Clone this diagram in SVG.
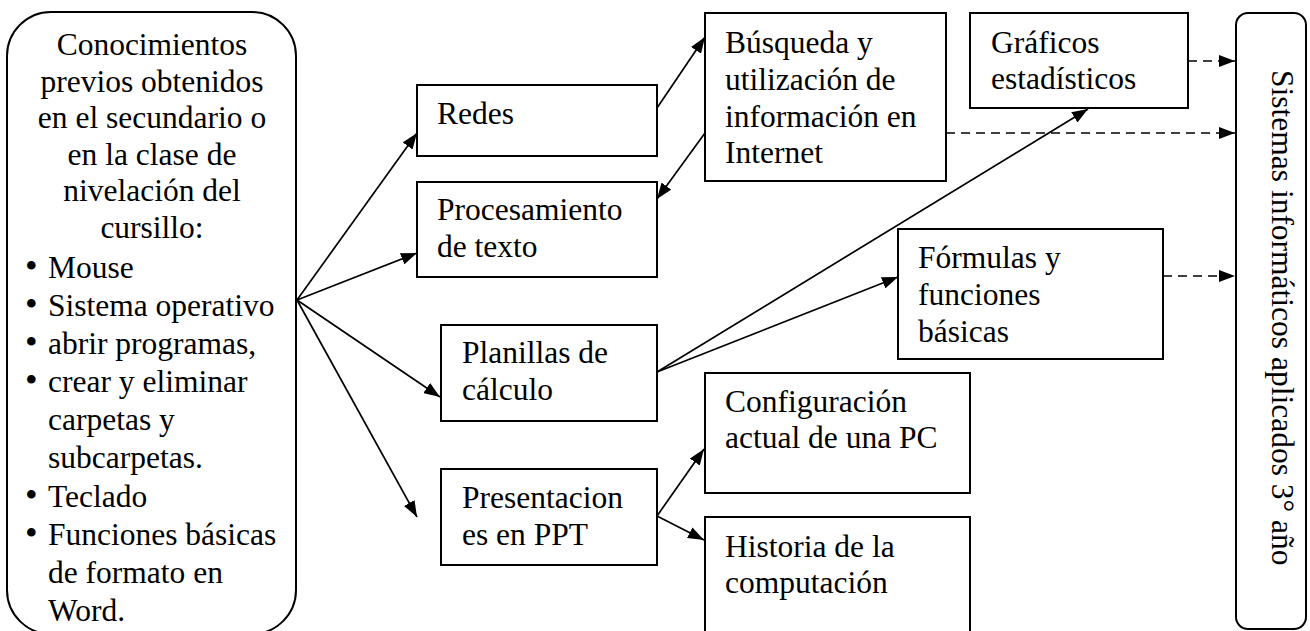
<svg xmlns="http://www.w3.org/2000/svg" width="1310" height="631" viewBox="0 0 1310 631">
<defs>
<style>
.box{fill:#fff;stroke:#000;stroke-width:2}
.t{font-family:"Liberation Serif","Times New Roman",serif;font-size:31.5px;fill:#000}
.b{font-size:36px}
.c{text-anchor:middle}
.ln{fill:none;stroke:#000;stroke-width:1.7}
.ds{fill:none;stroke:#000;stroke-width:1.7;stroke-dasharray:9,6}
</style>
<marker id="ah" viewBox="0 0 16 12" refX="16" refY="6" markerWidth="16" markerHeight="12" markerUnits="userSpaceOnUse" orient="auto">
<path d="M0,0 L16,6 L0,12 Z" fill="#000"/>
</marker>
</defs>
<rect width="1310" height="631" fill="#fff"/>

<g id="n-conocimientos">
<rect class="box" x="7" y="12" width="289" height="622" rx="44" ry="44"/>
<text class="t c" x="152" y="55">Conocimientos</text>
<text class="t c" x="152" y="91.5">previos obtenidos</text>
<text class="t c" x="152" y="128">en el secundario o</text>
<text class="t c" x="152" y="164.5">en la clase de</text>
<text class="t c" x="152" y="201">nivelación del</text>
<text class="t c" x="152" y="237.5">cursillo:</text>
<text class="t" y="278"><tspan class="b" x="25">•</tspan><tspan x="48">Mouse</tspan></text>
<text class="t" y="316"><tspan class="b" x="25">•</tspan><tspan x="48">Sistema operativo</tspan></text>
<text class="t" y="354"><tspan class="b" x="25">•</tspan><tspan x="48">abrir programas,</tspan></text>
<text class="t" y="392"><tspan class="b" x="25">•</tspan><tspan x="48">crear y eliminar</tspan></text>
<text class="t" x="48" y="430">carpetas y</text>
<text class="t" x="48" y="468">subcarpetas.</text>
<text class="t" y="506.5"><tspan class="b" x="25">•</tspan><tspan x="48">Teclado</tspan></text>
<text class="t" y="544.5"><tspan class="b" x="25">•</tspan><tspan x="48">Funciones básicas</tspan></text>
<text class="t" x="48" y="582.5">de formato en</text>
<text class="t" x="48" y="620.5">Word.</text>
</g>

<g id="n-redes">
<rect class="box" x="417" y="85" width="240" height="71"/>
<text class="t" x="437" y="124">Redes</text>
</g>

<g id="n-procesamiento">
<rect class="box" x="417" y="182" width="240" height="95"/>
<text class="t" x="437" y="220">Procesamiento</text>
<text class="t" x="437" y="257">de texto</text>
</g>

<g id="n-planillas">
<rect class="box" x="441" y="325" width="216" height="96"/>
<text class="t" x="462" y="363">Planillas de</text>
<text class="t" x="462" y="400">cálculo</text>
</g>

<g id="n-presentaciones">
<rect class="box" x="441" y="469" width="216" height="96"/>
<text class="t" x="462" y="508">Presentacion</text>
<text class="t" x="462" y="545">es en PPT</text>
</g>

<g id="n-busqueda">
<rect class="box" x="705" y="13" width="241" height="168"/>
<text class="t" x="725" y="53">Búsqueda y</text>
<text class="t" x="725" y="90">utilización de</text>
<text class="t" x="725" y="127">información en</text>
<text class="t" x="725" y="163">Internet</text>
</g>

<g id="n-graficos">
<rect class="box" x="970" y="13" width="218" height="95"/>
<text class="t" x="991" y="53">Gráficos</text>
<text class="t" x="991" y="89">estadísticos</text>
</g>

<g id="n-formulas">
<rect class="box" x="898" y="229" width="265" height="130"/>
<text class="t" x="918" y="268">Fórmulas y</text>
<text class="t" x="918" y="305">funciones</text>
<text class="t" x="918" y="342">básicas</text>
</g>

<g id="n-configuracion">
<rect class="box" x="705" y="373" width="265" height="120"/>
<text class="t" x="725" y="412">Configuración</text>
<text class="t" x="725" y="448">actual de una PC</text>
</g>

<g id="n-historia">
<rect class="box" x="705" y="517" width="265" height="130"/>
<text class="t" x="725" y="557">Historia de la</text>
<text class="t" x="725" y="593">computación</text>
</g>

<g id="n-sistemas">
<rect class="box" x="1236" y="13" width="70" height="616" rx="12" ry="12"/>
<text class="t" transform="translate(1272,70) rotate(90)" x="0" y="0">Sistemas informáticos aplicados 3° año</text>
</g>

<g id="connectors">
<line class="ln" x1="297" y1="300" x2="417" y2="133" marker-end="url(#ah)"/>
<line class="ln" x1="297" y1="300" x2="417" y2="253" marker-end="url(#ah)"/>
<line class="ln" x1="297" y1="300" x2="440" y2="397" marker-end="url(#ah)"/>
<line class="ln" x1="297" y1="300" x2="417" y2="517" marker-end="url(#ah)"/>
<line class="ln" x1="657" y1="108" x2="705" y2="37" marker-end="url(#ah)"/>
<line class="ln" x1="705" y1="133" x2="657" y2="199" marker-end="url(#ah)"/>
<line class="ln" x1="657" y1="372" x2="1088" y2="109" marker-end="url(#ah)"/>
<line class="ln" x1="657" y1="372" x2="898" y2="277" marker-end="url(#ah)"/>
<line class="ln" x1="657" y1="516" x2="704" y2="449" marker-end="url(#ah)"/>
<line class="ln" x1="657" y1="516" x2="704" y2="540" marker-end="url(#ah)"/>
<line class="ds" x1="1188" y1="61" x2="1235" y2="61" marker-end="url(#ah)"/>
<line class="ds" x1="946" y1="133" x2="1235" y2="133" marker-end="url(#ah)"/>
<line class="ds" x1="1163" y1="276" x2="1235" y2="276" marker-end="url(#ah)"/>
</g>
</svg>
